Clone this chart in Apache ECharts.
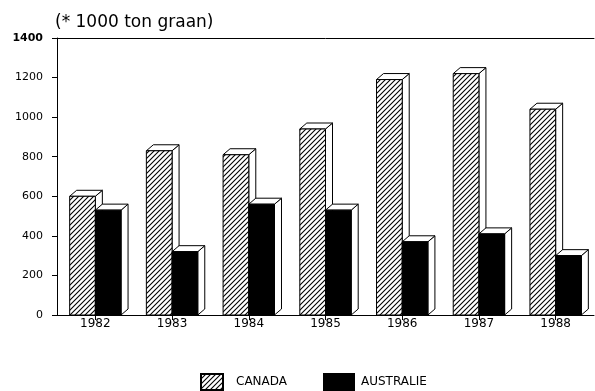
<!DOCTYPE html>
<html>
<head>
<meta charset="utf-8">
<script src="https://cdn.jsdelivr.net/npm/echarts@6/dist/echarts.min.js"></script>
<style>
  html, body { margin: 0; padding: 0; background: #fff; }
  #chart { width: 595px; height: 391px; }
</style>
</head>
<body>
<div id="chart"></div>
<script>
// Graanexport (x 1000 ton)
const years = ['1982', '1983', '1984', '1985', '1986', '1987', '1988'];
const canada = [600, 830, 810, 940, 1190, 1220, 1040];
const australie = [530, 320, 560, 530, 370, 410, 300];
const yTicks = [0, 200, 400, 600, 800, 1000, 1200, 1400];

// diagonal hatch tile
function makeHatch() {
  const s = 5;
  const c = document.createElement('canvas');
  c.width = s; c.height = s;
  const g = c.getContext('2d');
  g.fillStyle = '#fff';
  g.fillRect(0, 0, s, s);
  g.strokeStyle = '#000';
  g.lineWidth = 1.1;
  g.beginPath();
  g.moveTo(-1, s + 1); g.lineTo(s + 1, -1);
  g.moveTo(-1, 1); g.lineTo(1, -1);
  g.moveTo(s - 1, s + 1); g.lineTo(s + 1, s - 1);
  g.stroke();
  return c;
}
const hatch = { image: makeHatch(), repeat: 'repeat' };

const DX = 7, DY = 6;

// 3D-looking bar: front face, top face and right side face
function bar3d(side, fill) {
  return function (params, api) {
    const i = api.value(0);
    const v = api.value(1);
    const top = api.coord([i, v]);
    const base = api.coord([i, 0]);
    const band = api.size([1, 0])[0];
    const w = band * 0.335;
    const x0 = side === 0 ? top[0] - w : top[0];
    const x1 = x0 + w;
    const yT = top[1], yB = base[1];
    const line = { stroke: '#000', lineWidth: 1 };
    return {
      type: 'group',
      children: [
        {
          type: 'polygon',
          shape: { points: [[x1, yT], [x1 + DX, yT - DY], [x1 + DX, yB - DY], [x1, yB]] },
          style: Object.assign({ fill: '#fff' }, line)
        },
        {
          type: 'polygon',
          shape: { points: [[x0, yT], [x0 + DX, yT - DY], [x1 + DX, yT - DY], [x1, yT]] },
          style: Object.assign({ fill: '#fff' }, line)
        },
        {
          type: 'rect',
          shape: { x: x0, y: yT, width: w, height: yB - yT },
          style: Object.assign({ fill: fill }, line)
        }
      ]
    };
  };
}

const font = 'DejaVu Sans, Verdana, sans-serif';
const chart = echarts.init(document.getElementById('chart'), null, { renderer: 'canvas' });

chart.setOption({
  animation: false,
  backgroundColor: '#fff',
  title: {
    text: '(* 1000 ton graan)',
    left: 50, top: 9,
    textStyle: { fontFamily: font, fontSize: 17, fontWeight: 'normal', color: '#000' }
  },
  grid: { left: 57, right: 1, top: 38, bottom: 76, containLabel: false },
  legend: [
    {
      data: ['CANADA'],
      left: 195, top: 368,
      itemWidth: 22, itemHeight: 16,
      icon: 'rect',
      textStyle: { fontFamily: font, fontSize: 12, color: '#000', padding: [0, 0, 0, 8] }
    },
    {
      data: ['AUSTRALIE'],
      left: 318, top: 368,
      itemWidth: 30, itemHeight: 16,
      icon: 'rect',
      textStyle: { fontFamily: font, fontSize: 12, color: '#000', padding: [0, 0, 0, 2] }
    }
  ],
  xAxis: [
    {
      type: 'category',
      data: years,
      boundaryGap: true,
      axisLine: { show: true, lineStyle: { color: '#000', width: 1 } },
      axisTick: { show: true, alignWithLabel: true, length: 5, lineStyle: { color: '#000' } },
      axisLabel: { color: '#000', fontFamily: font, fontSize: 12, margin: 3 }
    },
    {
      type: 'category',
      data: years,
      position: 'top',
      axisLine: { show: true, lineStyle: { color: '#000', width: 1 } },
      axisTick: { show: false },
      axisLabel: { show: false }
    }
  ],
  yAxis: {
    type: 'value',
    min: yTicks[0],
    max: yTicks[yTicks.length - 1],
    interval: yTicks[1] - yTicks[0],
    axisLine: { show: true, lineStyle: { color: '#000', width: 1 } },
    axisTick: { show: true, length: 5, lineStyle: { color: '#000' } },
    splitLine: { show: false },
    axisLabel: {
      color: '#000', fontFamily: font, fontSize: 11, margin: 14,
      formatter: function (v) { return v === yTicks[yTicks.length - 1] ? '{b|' + v + '}' : String(v); },
      rich: { b: { fontWeight: 'bold', fontFamily: font, fontSize: 11, color: '#000' } }
    }
  },
  series: [
    {
      name: 'CANADA',
      type: 'custom',
      renderItem: bar3d(0, hatch),
      itemStyle: { color: hatch, borderColor: '#000', borderWidth: 1 },
      encode: { x: 0, y: 1 },
      data: canada.map((v, i) => [i, v])
    },
    {
      name: 'AUSTRALIE',
      type: 'custom',
      renderItem: bar3d(1, '#000'),
      itemStyle: { color: '#000', borderColor: '#000', borderWidth: 1 },
      encode: { x: 0, y: 1 },
      data: australie.map((v, i) => [i, v])
    }
  ]
});
</script>
</body>
</html>
